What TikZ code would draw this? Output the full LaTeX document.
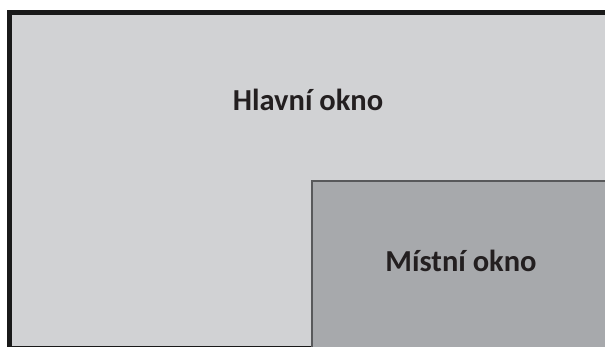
\documentclass[tikz,border=0pt]{standalone}
\usepackage{fontspec}
\setmainfont{Carlito}
\definecolor{MainClr}{HTML}{D1D2D4}
\definecolor{LocalClr}{HTML}{A7A9AC}
\definecolor{LocalLine}{HTML}{58595B}
\definecolor{TextClr}{HTML}{231F20}
\tikzset{
  wintext/.style={font=\fontsize{30.5}{32}\selectfont\bfseries,text=TextClr,anchor=base,inner sep=0pt},
}
\begin{document}
\begin{tikzpicture}[x=1pt,y=1pt]
\useasboundingbox (0,0) rectangle (605,347);
\clip (0,0) rectangle (605,347);
\fill[white] (0,0) rectangle (605,347);

\coordinate (mainNW) at (9.5,334.5);
\coordinate (mainSE) at (612,-1.5);
\coordinate (localNW) at (311.5,166);
\coordinate (localSE) at (620,-10);

\draw[line width=5pt,fill=MainClr,draw=black!90] (mainNW) rectangle (mainSE);
\draw[line width=2pt,fill=LocalClr,draw=LocalLine] (localNW) rectangle (localSE);

\node[wintext] (main) at (308,236) {Hlavní okno};
\node[wintext] (local) at (461,75) {Místní okno};

\end{tikzpicture}
\end{document}
